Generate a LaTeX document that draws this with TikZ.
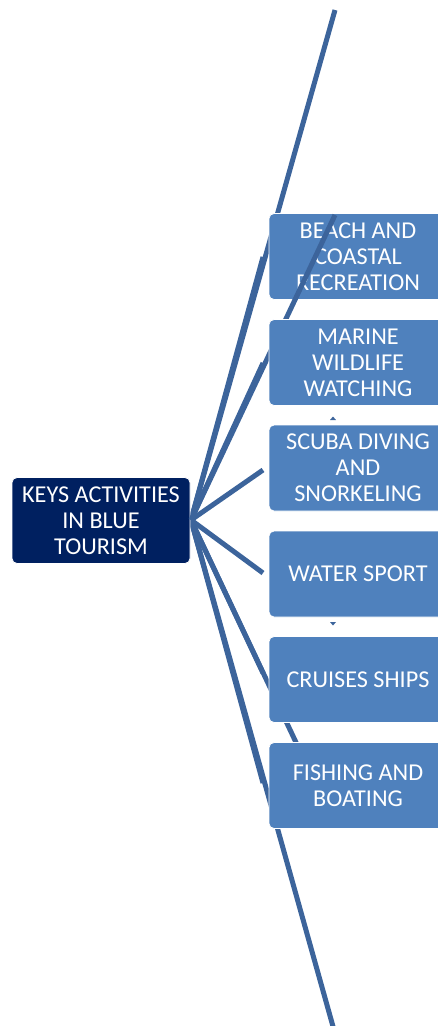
\documentclass[tikz,border=0pt]{standalone}
\usepackage{fontspec}
\setmainfont{Carlito}
\usetikzlibrary{positioning, calc}

\definecolor{navy}{RGB}{0,32,96}
\definecolor{boxblue}{RGB}{79,129,189}
\definecolor{linkblue}{RGB}{60,100,155}

\begin{document}
\begin{tikzpicture}[
    x=1pt, y=-1pt,
    box/.style={draw=white, line width=0.8pt, rounded corners=5pt, minimum height=86pt, minimum width=178pt,
        align=center, text=white, font=\fontsize{24.2}{26}\selectfont, inner sep=0pt},
    link/.style={draw=linkblue, line width=5pt}
]
\useasboundingbox (0,0) rectangle (438,1026);
\clip (0,0) rectangle (438,1026);

% free ends of the long spokes
\coordinate (hub) at (191,520);
\coordinate (top) at (335,10);
\coordinate (mid up) at (335,215);
\coordinate (mid down) at (335,825);
\coordinate (bottom) at (334,1030);

% spokes behind the boxes
\draw[link] (hub) -- (top);
\draw[link] (hub) -- (mid down);
\draw[link] (hub) -- (bottom);
\foreach \y in {257,363,470,573,673,783}
    \draw[link] (hub) -- (263,\y);

\node[box, fill=navy] (center) at (101,520.5) {KEYS ACTIVITIES\\IN BLUE\\TOURISM};

\node[box, fill=boxblue] (beach) at (358,256.5) {BEACH AND\\COASTAL\\RECREATION};
\draw[link] (hub) -- (mid up);
\node[box, fill=boxblue] (wildlife) at (358,362.5) {MARINE\\WILDLIFE\\WATCHING};
\node[box, fill=boxblue] (scuba) at (358,468) {SCUBA DIVING\\AND\\SNORKELING};
\node[box, fill=boxblue] (sport) at (358,574) {WATER SPORT};
\node[box, fill=boxblue] (cruise) at (358,679.5) {CRUISES SHIPS};
\node[box, fill=boxblue] (fishing) at (358,785.5) {FISHING AND\\BOATING};

% small tips between the boxes
\fill[linkblue] (330,420) -- (336,420) -- (333,416.5) -- cycle;
\fill[linkblue] (330,622) -- (336,622) -- (333,625.5) -- cycle;
\end{tikzpicture}
\end{document}
